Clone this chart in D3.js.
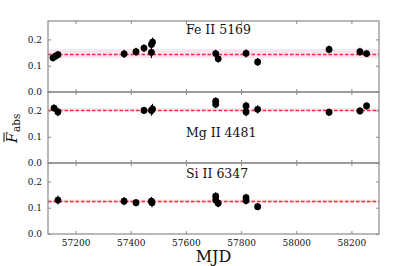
<!DOCTYPE html>
<html lang="en">
<head>
<meta charset="UTF-8">
<title>Absorption strength vs MJD</title>
<script src="https://d3js.org/d3.v7.min.js"></script>
<style>
    body { margin: 0; padding: 0; background: #fff; }
    svg text { font-family: 'DejaVu Serif', serif; fill: #111; }
</style>
</head>
<body>
<svg id="chart" width="399" height="266"></svg>
<script>
    // data: [MJD, mean F_abs, error]
    const feData = [
        [57118, 0.130, 0.014], [57127, 0.136, 0.014], [57136, 0.142, 0.014],
        [57376, 0.145, 0.016], [57419, 0.153, 0.015], [57448, 0.167, 0.015],
        [57475, 0.151, 0.022], [57475, 0.181, 0.016], [57479, 0.190, 0.017],
        [57708, 0.146, 0.015], [57717, 0.126, 0.014], [57818, 0.147, 0.016],
        [57860, 0.114, 0.015], [58119, 0.162, 0.015], [58231, 0.153, 0.015],
        [58255, 0.146, 0.014]
    ];
    const mgData = [
        [57122, 0.209, 0.014], [57136, 0.194, 0.016], [57448, 0.200, 0.014],
        [57475, 0.200, 0.020], [57479, 0.205, 0.020], [57708, 0.235, 0.015],
        [57708, 0.223, 0.015], [57818, 0.217, 0.016], [57818, 0.194, 0.016],
        [57860, 0.204, 0.016], [58119, 0.193, 0.013], [58231, 0.198, 0.014],
        [58255, 0.217, 0.014]
    ];
    const siData = [
        [57136, 0.129, 0.017], [57376, 0.125, 0.016], [57419, 0.119, 0.014],
        [57475, 0.125, 0.016], [57477, 0.119, 0.017], [57708, 0.144, 0.015],
        [57708, 0.129, 0.015], [57717, 0.117, 0.015], [57818, 0.138, 0.015],
        [57818, 0.127, 0.015], [57860, 0.104, 0.014]
    ];
    const panels = [
        { name: "Fe II 5169", data: feData, mean: 0.146, spread: 0.017 },
        { name: "Mg II 4481", data: mgData, mean: 0.203, spread: 0.005 },
        { name: "Si II 6347", data: siData, mean: 0.125, spread: 0.006 }
    ];
    const xTicks = [57200, 57400, 57600, 57800, 58000, 58200];
    const yTicks = [0.0, 0.1, 0.2];

    const svg = d3.select("#chart");
    const plotLeft = 48, plotRight = 379, plotTop = 21, panelH = 71;
    const frameColor = "#8a8a8a";

    const x = d3.scaleLinear().domain([57100, 58300]).range([plotLeft, plotRight]);

    // label offsets inside each panel
    const labelPos = [{ x: 186, dy: 13 }, { x: 186, dy: 45 }, { x: 186, dy: 15 }];

    panels.forEach((p, i) => {
        const y0 = plotTop + i * panelH;
        const y = d3.scaleLinear().domain([0, 0.27]).range([y0 + panelH, y0]);
        const g = svg.append("g");

        // shaded band and mean line
        g.append("rect")
            .attr("x", plotLeft).attr("width", plotRight - plotLeft)
            .attr("y", y(p.mean + p.spread))
            .attr("height", y(p.mean - p.spread) - y(p.mean + p.spread))
            .attr("fill", "#fbe3f3");
        g.append("line")
            .attr("x1", plotLeft).attr("x2", plotRight)
            .attr("y1", Math.round(y(p.mean)) + 0.5).attr("y2", Math.round(y(p.mean)) + 0.5)
            .attr("stroke", "#ff2a2a").attr("stroke-width", 1.3)
            .attr("stroke-dasharray", "3.5,2");

        // error bars and points
        g.selectAll(".err").data(p.data).enter().append("line")
            .attr("x1", d => x(d[0])).attr("x2", d => x(d[0]))
            .attr("y1", d => y(d[1] - d[2])).attr("y2", d => y(d[1] + d[2]))
            .attr("stroke", "#000").attr("stroke-width", 1.2);
        g.selectAll(".pt").data(p.data).enter().append("circle")
            .attr("cx", d => x(d[0])).attr("cy", d => y(d[1]))
            .attr("r", 3.4).attr("fill", "#000");

        // axes: ticks inward on all four sides
        const axL = d3.axisLeft(y).tickValues(yTicks).tickFormat(d3.format(".1f"))
            .tickSizeInner(-3).tickSizeOuter(0).tickPadding(6);
        const axR = d3.axisRight(y).tickValues(yTicks).tickFormat("")
            .tickSizeInner(-3).tickSizeOuter(0);
        const axT = d3.axisTop(x).tickValues(xTicks).tickFormat("")
            .tickSizeInner(-3).tickSizeOuter(0);
        const axB = d3.axisBottom(x).tickValues(xTicks)
            .tickFormat(i === 2 ? d3.format("d") : "")
            .tickSizeInner(-3).tickSizeOuter(0).tickPadding(6);

        const gl = g.append("g").attr("transform", `translate(${plotLeft},0)`).call(axL);
        const gr = g.append("g").attr("transform", `translate(${plotRight},0)`).call(axR);
        const gt = g.append("g").attr("transform", `translate(0,${y0})`).call(axT);
        const gb = g.append("g").attr("transform", `translate(0,${y0 + panelH})`).call(axB);
        [gl, gr, gt, gb].forEach(a => {
            a.select(".domain").remove();
            a.selectAll("line").attr("stroke", frameColor);
            a.selectAll("text").attr("font-family", "'DejaVu Serif', serif")
                .attr("font-size", 9).attr("fill", "#222");
        });

        g.append("rect")
            .attr("x", plotLeft).attr("y", y0)
            .attr("width", plotRight - plotLeft).attr("height", panelH)
            .attr("fill", "none").attr("stroke", frameColor).attr("stroke-width", 1.2);

        g.append("text")
            .attr("x", labelPos[i].x).attr("y", y0 + labelPos[i].dy)
            .attr("font-size", 12.5)
            .text(p.name);
    });

    // x label
    svg.append("text")
        .attr("x", (plotLeft + plotRight) / 2).attr("y", 262)
        .attr("text-anchor", "middle")
        .attr("font-size", 16)
        .text("MJD");

    // y label: F with overline, subscript abs
    const yl = svg.append("g").attr("transform", "translate(17,131) rotate(-90)");
    yl.append("text")
        .attr("x", -12).attr("y", 0)
        .attr("font-family", "'DejaVu Sans', sans-serif")
        .attr("font-style", "italic").attr("font-size", 15)
        .text("F");
    yl.append("line")
        .attr("x1", -11).attr("x2", -1.5).attr("y1", -13).attr("y2", -13)
        .attr("stroke", "#111").attr("stroke-width", 1);
    yl.append("text")
        .attr("x", -1).attr("y", 3)
        .attr("font-family", "'DejaVu Sans', sans-serif")
        .attr("font-size", 10.5)
        .text("abs");
</script>
</body>
</html>
